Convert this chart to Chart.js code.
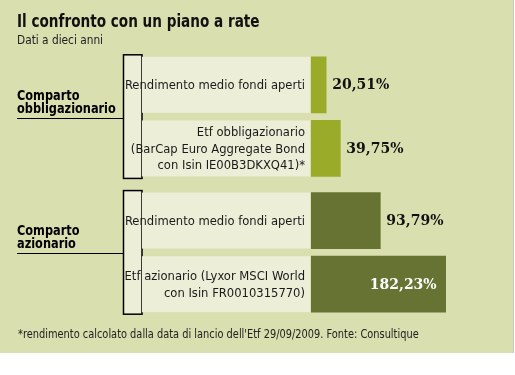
<!DOCTYPE html>
<html>
<head>
<meta charset="utf-8">
<script src="https://cdn.jsdelivr.net/npm/chart.js@4"></script>
<style>
  body { margin: 0; background: #fff; }
  canvas { display: block; }
</style>
</head>
<body>
<canvas id="chart" width="515" height="375"></canvas>
<script>
// Data
const rowLabels = [
  ['Rendimento medio fondi aperti'],
  ['Etf obbligazionario', '(BarCap Euro Aggregate Bond', 'con Isin IE00B3DKXQ41)*'],
  ['Rendimento medio fondi aperti'],
  ['Etf azionario (Lyxor MSCI World', 'con Isin FR0010315770)']
];
const rowGroup = [0, 0, 1, 1];
const groupLabels = [['Comparto', 'obbligazionario'], ['Comparto', 'azionario']];
const values = [20.51, 39.75, 93.79, 182.23];
const valueText = ['20,51%', '39,75%', '93,79%', '182,23%'];

const BG = '#d9dfae';
const PANEL = '#eceed7';
const barColors = ['#9aab2a', '#9aab2a', '#667332', '#667332'];
const SANS = "'DejaVu Sans Condensed', 'DejaVu Sans', sans-serif";
const SERIF = "'DejaVu Serif', serif";
const GROUP_GAP = 0.134;

// bars sit on a linear index axis so the gap between the two groups can be wider
const points = values.map((v, i) => ({ x: v, y: i + rowGroup[i] * GROUP_GAP }));

// draw text squeezed horizontally (no narrow font installed)
function squeezeText(ctx, text, x, y, sx, align) {
  ctx.save();
  ctx.textAlign = align || 'left';
  ctx.translate(x, y);
  ctx.scale(sx, 1);
  ctx.fillText(text, 0, 0);
  ctx.restore();
}

const decor = {
  id: 'decor',
  beforeDraw(chart) {
    const ctx = chart.ctx;
    ctx.save();
    ctx.fillStyle = '#fff';
    ctx.fillRect(0, 0, chart.width, chart.height);
    ctx.fillStyle = BG;
    ctx.fillRect(0, 0, 513, 353);
    ctx.fillStyle = '#c8c8c8';
    ctx.fillRect(513, 0, 1, 353);

    // title + subtitle
    ctx.fillStyle = '#111';
    ctx.textBaseline = 'alphabetic';
    ctx.font = "bold 18px " + SANS;
    squeezeText(ctx, 'Il confronto con un piano a rate', 17, 27, 0.84);
    ctx.fillStyle = '#222';
    ctx.font = "12px " + SANS;
    squeezeText(ctx, 'Dati a dieci anni', 17, 44, 0.98);

    const bars = chart.getDatasetMeta(0).data;

    // group brackets, labels and underlines
    groupLabels.forEach((lines, g) => {
      const idx = rowGroup.map((gg, i) => gg === g ? i : -1).filter(i => i >= 0);
      const first = bars[idx[0]], last = bars[idx[idx.length - 1]];
      const top = first.y - first.height / 2 - 2;
      const bottom = last.y + last.height / 2 + 2;
      ctx.fillStyle = PANEL;
      ctx.fillRect(123, top, 19, bottom - top);
      ctx.strokeStyle = '#000';
      ctx.lineWidth = 1.5;
      ctx.strokeRect(123.5, top, 18.5, bottom - top);

      const second = bars[idx[1]];
      const lineY = Math.round((first.y + first.height / 2 + second.y - second.height / 2) / 2) + 1.5;
      ctx.lineWidth = 1.2;
      ctx.beginPath();
      ctx.moveTo(17, lineY);
      ctx.lineTo(123, lineY);
      ctx.stroke();

      ctx.fillStyle = '#000';
      ctx.font = "bold 14px " + SANS;
      squeezeText(ctx, lines[0], 17, lineY - 19, 0.9);
      squeezeText(ctx, lines[1], 17, lineY - 6, 0.9);
    });

    // label panels and row labels
    bars.forEach((bar, i) => {
      const top = bar.y - bar.height / 2;
      ctx.fillStyle = PANEL;
      ctx.fillRect(142, top, 168, bar.height);
      ctx.fillStyle = '#1a1a1a';
      ctx.font = "13px " + SANS;
      ctx.textBaseline = 'middle';
      const lines = rowLabels[i];
      const lh = 16.5;
      lines.forEach((t, k) => {
        squeezeText(ctx, t, 305, bar.y + (k - (lines.length - 1) / 2) * lh + 1, 0.99, 'right');
      });
    });

    // footnote
    ctx.fillStyle = '#222';
    ctx.textBaseline = 'alphabetic';
    ctx.font = "11.5px " + SANS;
    squeezeText(ctx, "*rendimento calcolato dalla data di lancio dell'Etf 29/09/2009. Fonte: Consultique", 18, 338, 0.95);
    ctx.restore();
  },
  afterDatasetsDraw(chart) {
    const ctx = chart.ctx;
    ctx.save();
    ctx.font = "bold 14px " + SERIF;
    ctx.textBaseline = 'middle';
    chart.getDatasetMeta(0).data.forEach((bar, i) => {
      const t = valueText[i];
      const w = ctx.measureText(t).width;
      const barW = bar.x - bar.base;
      if (barW > w + 16) {
        ctx.fillStyle = '#fff';
        ctx.textAlign = 'right';
        ctx.fillText(t, bar.x - 9, bar.y + 1);
      } else {
        ctx.fillStyle = '#111';
        ctx.textAlign = 'left';
        ctx.fillText(t, bar.x + 6, bar.y + 1);
      }
    });
    ctx.restore();
  }
};

new Chart(document.getElementById('chart'), {
  type: 'bar',
  data: {
    datasets: [{
      data: points,
      backgroundColor: barColors,
      borderWidth: 0,
      barThickness: 56
    }]
  },
  options: {
    indexAxis: 'y',
    responsive: false,
    animation: false,
    layout: { padding: { left: 311, right: 3, top: 53, bottom: 59 } },
    scales: {
      x: { type: 'linear', min: 0, max: 272, display: false },
      y: { type: 'linear', offset: false, min: -0.5, max: 3 + GROUP_GAP + 0.5, reverse: true, display: false }
    },
    plugins: {
      legend: { display: false },
      tooltip: { enabled: false }
    }
  },
  plugins: [decor]
});
</script>
</body>
</html>
